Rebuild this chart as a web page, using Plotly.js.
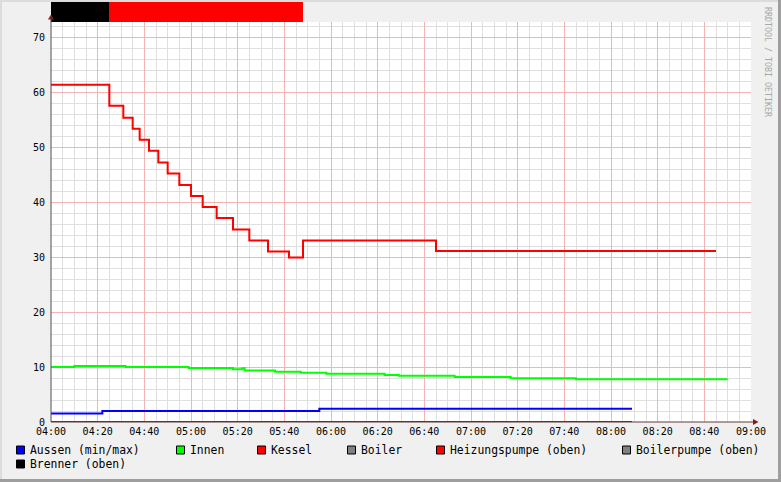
<!DOCTYPE html>
<html><head><meta charset="utf-8">
<script src="https://cdn.plot.ly/plotly-3.0.1.min.js"></script>
<style>html,body{margin:0;padding:0;background:#F0F0F0;}#chart{width:781px;height:482px;}</style>
</head><body><div id="chart"></div>
<script>
// ---- data ----
const DAY = '2024-01-01 ';
const xTickLabels = ['04:00','04:20','04:40','05:00','05:20','05:40','06:00','06:20','06:40','07:00','07:20','07:40','08:00','08:20','08:40','09:00'];
const yTickLabels = ['0','10','20','30','40','50','60','70'];

const kesselTimes  = ['04:00','04:25','04:31','04:35','04:38','04:42','04:46','04:50','04:55','05:00','05:05','05:11','05:18','05:25','05:33','05:42','05:48','06:45','08:45'];
const kesselValues = [61.3, 57.5, 55.3, 53.3, 51.3, 49.3, 47.2, 45.2, 43.1, 41.1, 39.1, 37.1, 35.0, 33.0, 31.0, 29.9, 33.0, 31.1, 31.1];

const innenTimes  = ['04:00','04:10','04:32','04:59','05:18','05:22','05:23','05:36','05:47','05:58','06:23','06:29','06:53','07:17','07:45','08:50'];
const innenValues = [10.0, 10.2, 10.0, 9.8, 9.6, 9.75, 9.35, 9.15, 8.95, 8.75, 8.55, 8.4, 8.18, 7.94, 7.76, 7.76];

const aussenTimes  = ['04:00','04:22','05:55','08:09'];
const aussenValues = [1.55, 2.0, 2.4, 2.4];

const boilerTimes  = ['04:00','08:09'];
const boilerValues = [0, 0];

// on/off intervals drawn in the top strip
const brennerOn  = ['04:00'];
const brennerOff = ['04:25'];
const pumpeOn    = ['04:25'];
const pumpeOff   = ['05:48'];

const legendNames  = ['Aussen (min/max)','Innen','Kessel','Boiler','Heizungspumpe (oben)','Boilerpumpe (oben)','Brenner (oben)'];
const legendColors = ['#0000FF','#00FF00','#FF0000','#808080','#FF0000','#808080','#000000'];

// ---- helpers ----
const pad2 = n => String(n).padStart(2,'0');
const T = s => DAY + s + ':00';
const ms = s => { const [h,m] = s.split(':').map(Number); return (h*60+m)*60000; };
const fromMs = t => { const h = Math.floor(t/3600000); const r = t%3600000; const m = Math.floor(r/60000); const s = Math.round((r%60000)/1000); return DAY + pad2(h)+':'+pad2(m)+':'+pad2(s); };
const mid = (a,b) => fromMs((ms(a)+ms(b))/2);
const xStart = xTickLabels[0], xEnd = xTickLabels[xTickLabels.length-1];

// minor grid positions (every 5 min / every 2 units, skipping major positions)
const xMinor = [];
for (let t = ms(xStart); t <= ms(xEnd); t += 5*60000) { if ((t/60000) % 20 !== 0) xMinor.push(fromMs(t)); }
const yMinor = [];
for (let v = 2; v <= 72; v += 2) { if (v % 10 !== 0) yMinor.push(v); }

// pixel -> paper helpers (plot area x 51..751, y 2..422)
const PX = px => (px-51)/700;
const PY = py => (422-py)/420;
const MAINTOP = PY(22);

const mono = 'DejaVu Sans Mono, monospace';

function lineTrace(times, vals, color){
  return {type:'scatter', mode:'lines', x: times.map(T), y: vals,
          line:{color:color, width:2, shape:'hv'}, xaxis:'x', yaxis:'y', hoverinfo:'skip', showlegend:false};
}
function barTrace(on, off, color){
  return {type:'bar', x: on.map((a,i)=>mid(a,off[i])), y: on.map(()=>1), base: 0,
          width: on.map((a,i)=>ms(off[i])-ms(a)),
          marker:{color:color, line:{width:0}}, xaxis:'x2', yaxis:'y2', hoverinfo:'skip', showlegend:false};
}

const data = [
  barTrace(brennerOn, brennerOff, '#000000'),
  barTrace(pumpeOn, pumpeOff, '#FF0000'),
  lineTrace(boilerTimes, boilerValues, '#3A3A3A'),
  lineTrace(aussenTimes, aussenValues, '#0000FF'),
  lineTrace(innenTimes, innenValues, '#00FF00'),
  lineTrace(kesselTimes, kesselValues, '#FF0000')
];

const shapes = [
  {type:'rect', xref:'paper', yref:'paper', x0:PX(40), x1:PX(760), y0:MAINTOP, y1:PY(0), fillcolor:'#F0F0F0', line:{width:0}, layer:'below'},
  {type:'line', xref:'paper', yref:'paper', x0:0, x1:PX(755), y0:0, y1:0, line:{color:'#6A3A3A', width:1}},
  {type:'line', xref:'paper', yref:'paper', x0:0, x1:0, y0:0, y1:PY(18), line:{color:'#505050', width:1}},
  {type:'path', xref:'paper', yref:'paper', path:`M ${PX(753)},${PY(419)} L ${PX(758.5)},${PY(422)} L ${PX(753)},${PY(425)} Z`, fillcolor:'#7F1F1F', line:{width:0}},
  {type:'path', xref:'paper', yref:'paper', path:`M ${PX(48)},${PY(19.5)} L ${PX(51)},${PY(14.5)} L ${PX(54)},${PY(19.5)} Z`, fillcolor:'#7F1F1F', line:{width:0}},
  {type:'rect', xref:'paper', yref:'paper', x0:PX(0), x1:PX(2), y0:PY(482), y1:PY(0), fillcolor:'#DCDCDC', line:{width:0}},
  {type:'rect', xref:'paper', yref:'paper', x0:PX(0), x1:PX(781), y0:PY(2), y1:PY(0), fillcolor:'#DCDCDC', line:{width:0}},
  {type:'rect', xref:'paper', yref:'paper', x0:PX(778), x1:PX(781), y0:PY(482), y1:PY(0), fillcolor:'#9E9E9E', line:{width:0}},
  {type:'rect', xref:'paper', yref:'paper', x0:PX(0), x1:PX(781), y0:PY(482), y1:PY(479), fillcolor:'#9E9E9E', line:{width:0}}
];

const annotations = [];
const legPos = [[16,450],[176,450],[257,450],[347,450],[436,450],[622,450],[16,464]];
legendNames.forEach((name,i)=>{
  const [lx,ly] = legPos[i];
  shapes.push({type:'rect', xref:'paper', yref:'paper', x0:PX(lx+0.5), x1:PX(lx+8.5), y0:PY(ly+4), y1:PY(ly-4),
               fillcolor:legendColors[i], line:{color:'#000000', width:1}});
  annotations.push({xref:'paper', yref:'paper', x:PX(lx+12), y:PY(ly), xanchor:'left', yanchor:'middle', showarrow:false,
                    text:name, font:{family:mono, size:11.4, color:'#000000'}});
});
annotations.push({xref:'paper', yref:'paper', x:PX(768), y:PY(62), showarrow:false, textangle:90,
                  text:'RRDTOOL / TOBI OETIKER', font:{family:mono, size:8.3, color:'#A8A8A8'}, xanchor:'center', yanchor:'middle'});

const layout = {
  width:781, height:482,
  margin:{l:51, r:30, t:2, b:60, pad:0},
  paper_bgcolor:'#F0F0F0', plot_bgcolor:'#FFFFFF',
  showlegend:false, bargap:0,
  font:{family:mono, size:10, color:'#000000'},
  xaxis:{type:'date', range:[T(xStart), T(xEnd)], domain:[0,1], anchor:'y',
         tickmode:'array', tickvals:xTickLabels.map(T), ticktext:xTickLabels, ticks:'', ticklabelstandoff:2,
         showgrid:true, gridcolor:'#F4B4B4', gridwidth:1, zeroline:false, showline:false,
         minor:{tickmode:'array', tickvals:xMinor, showgrid:true, gridcolor:'#DFDFDF', gridwidth:1, ticks:''},
         tickfont:{family:mono, size:10, color:'#000000'}},
  yaxis:{range:[0, 400/5.5], domain:[0, MAINTOP], anchor:'x', tickmode:'array', tickvals:yTickLabels.map(Number), ticktext:yTickLabels,
         ticks:'', ticklabelstandoff:5,
         showgrid:true, gridcolor:'#F4B4B4', gridwidth:1, zeroline:false, showline:false,
         minor:{tickmode:'array', tickvals:yMinor, showgrid:true, gridcolor:'#DFDFDF', gridwidth:1, ticks:''},
         tickfont:{family:mono, size:10, color:'#000000'}},
  xaxis2:{type:'date', range:[T(xStart), T(xEnd)], domain:[0,1], anchor:'y2', visible:false, showgrid:false, zeroline:false},
  yaxis2:{range:[0,1], domain:[MAINTOP,1], anchor:'x2', visible:false, showgrid:false, zeroline:false},
  shapes:shapes, annotations:annotations
};

Plotly.newPlot('chart', data, layout, {staticPlot:true, displayModeBar:false});
</script>
</body></html>
